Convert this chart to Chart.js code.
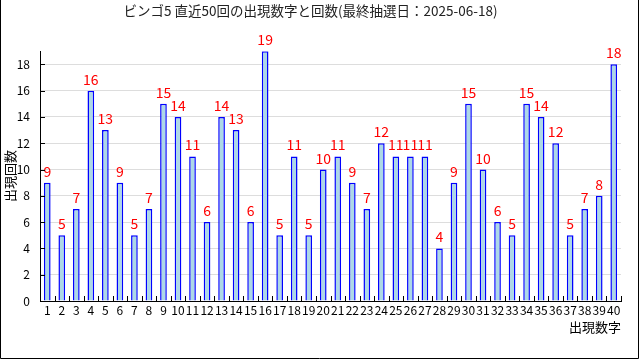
<!DOCTYPE html>
<html>
<head>
<meta charset="utf-8">
<script src="https://cdn.jsdelivr.net/npm/chart.js@4"></script>
<style>
  html, body { margin: 0; padding: 0; background: #fff; }
  #wrap { width: 640px; height: 360px; position: relative; }
</style>
</head>
<body>
<div id="wrap"><canvas id="bingoChart" width="640" height="360"></canvas></div>
<script>
// 出現数字 1〜40
const numbers = [
  "1", "2", "3", "4", "5", "6", "7", "8", "9", "10",
  "11", "12", "13", "14", "15", "16", "17", "18", "19", "20",
  "21", "22", "23", "24", "25", "26", "27", "28", "29", "30",
  "31", "32", "33", "34", "35", "36", "37", "38", "39", "40"
];
// 出現回数
const counts = [
  9, 5, 7, 16, 13, 9, 5, 7, 15, 14,
  11, 6, 14, 13, 6, 19, 5, 11, 5, 10,
  11, 9, 7, 12, 11, 11, 11, 4, 9, 15,
  10, 6, 5, 15, 14, 12, 5, 7, 8, 18
];
const yTicks = [0, 2, 4, 6, 8, 10, 12, 14, 16, 18];

const jpFont = "'Noto Sans CJK JP', 'DejaVu Sans', sans-serif";

// 棒の上に回数を描く
const valueLabels = {
  id: "valueLabels",
  afterDatasetsDraw(chart) {
    const ctx = chart.ctx;
    const meta = chart.getDatasetMeta(0);
    ctx.save();
    ctx.fillStyle = "#ff0000";
    ctx.font = "14px " + jpFont;
    ctx.textAlign = "center";
    ctx.textBaseline = "alphabetic";
    meta.data.forEach((bar, i) => {
      ctx.fillText(counts[i], bar.x, bar.y - 6);
    });
    ctx.restore();
  }
};

// 内向きの目盛りと外枠
const innerTicks = {
  id: "innerTicks",
  afterDraw(chart) {
    const ctx = chart.ctx;
    const area = chart.chartArea;
    const y = chart.scales.y;
    ctx.save();
    ctx.strokeStyle = "#000";
    ctx.lineWidth = 1;
    ctx.beginPath();
    y.ticks.forEach((t) => {
      const py = Math.round(y.getPixelForValue(t.value)) + 0.5;
      ctx.moveTo(area.left, py);
      ctx.lineTo(area.left + 5, py);
    });
    const step = (area.right - area.left) / numbers.length;
    for (let k = 0; k <= numbers.length; k++) {
      const px = Math.round(area.left + step * k) + 0.5;
      ctx.moveTo(px, area.bottom);
      ctx.lineTo(px, area.bottom - 5);
    }
    // 外枠
    ctx.moveTo(0.5, 0);
    ctx.lineTo(0.5, 358.5);
    ctx.lineTo(638.5, 358.5);
    ctx.lineTo(638.5, 0);
    ctx.stroke();
    ctx.restore();
  }
};

new Chart(document.getElementById("bingoChart"), {
  type: "bar",
  data: {
    labels: numbers,
    datasets: [
      {
        label: "出現回数",
        data: counts,
        backgroundColor: "#add8e6",
        borderColor: "#0000ff",
        borderWidth: 1.5,
        barPercentage: 0.46,
        categoryPercentage: 1
      }
    ]
  },
  options: {
    responsive: false,
    animation: false,
    layout: { padding: { left: 0, right: 19, top: 0, bottom: 25 } },
    plugins: {
      legend: { display: false },
      tooltip: { enabled: false },
      title: {
        display: true,
        text: "ビンゴ5 直近50回の出現数字と回数(最終抽選日：2025-06-18)",
        color: "#222",
        font: { family: jpFont, size: 13.5, weight: "normal" },
        padding: { top: 3, bottom: 32 }
      }
    },
    scales: {
      x: {
        grid: { drawOnChartArea: false, drawTicks: false },
        border: { color: "#000", width: 1 },
        ticks: {
          color: "#000",
          font: { family: jpFont, size: 12 },
          padding: 2,
          maxRotation: 0,
          autoSkip: false
        },
        title: {
          display: true,
          text: "出現数字",
          align: "end",
          color: "#000",
          font: { family: jpFont, size: 13 },
          padding: { top: 0, bottom: 0 }
        }
      },
      y: {
        min: 0,
        max: 19,
        grid: { color: "#dddddd", drawTicks: false },
        border: { color: "#000", width: 1 },
        afterBuildTicks(scale) {
          scale.ticks = yTicks.map((v) => ({ value: v }));
        },
        ticks: {
          color: "#000",
          font: { family: jpFont, size: 12 },
          padding: 10
        },
        title: {
          display: true,
          text: "出現回数",
          color: "#000",
          font: { family: jpFont, size: 13 },
          padding: { top: 2, bottom: 0 }
        },
        afterFit(scale) { scale.width = 40; }
      }
    }
  },
  plugins: [valueLabels, innerTicks]
});
</script>
</body>
</html>
